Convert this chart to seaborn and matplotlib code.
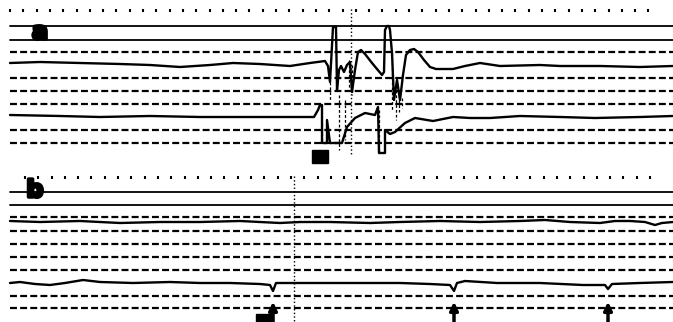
import numpy as np
import matplotlib.pyplot as plt
import matplotlib.patheffects as pe
import seaborn as sns
from matplotlib.patches import Rectangle

sns.set_style("white")
plt.rcParams['font.family'] = ['DejaVu Sans']
plt.rcParams['lines.scale_dashes'] = False

# --- record a: two pen traces (time, pen position) ---
a1_t = [10, 40, 80, 120, 150, 180, 210, 233, 260, 290, 310, 325, 328, 330, 333, 334, 336, 337,
        339, 341, 344, 347, 350, 352, 355, 358, 361, 365, 372, 382, 384, 385, 387, 389, 390,
        392, 394, 397, 400, 403, 406, 410, 414, 418, 424, 430, 436, 445, 453, 465, 480, 500,
        540, 560, 600, 640, 673]
a1_y = [63, 62, 63, 64, 65, 67, 65, 63, 64, 66, 63, 61, 66, 82, 27, 27, 27, 90,
        70, 66, 72, 65, 62, 92, 70, 52, 50, 54, 63, 75, 72, 30, 26, 26, 30,
        53, 100, 80, 100, 75, 55, 50, 49, 52, 60, 67, 69, 69, 69, 66, 63, 66,
        65, 66, 66, 67, 66]

a2_t = [10, 60, 100, 150, 200, 260, 300, 314, 318, 320, 322, 322, 327, 327, 330, 338, 342,
        347, 355, 365, 375, 378, 379, 385, 385, 390, 395, 405, 415, 433, 453, 470, 490, 520,
        560, 595, 640, 673]
a2_y = [115, 116, 117, 116, 117, 117, 117, 117, 110, 105, 105, 143, 143, 120, 143, 143, 143,
        127, 118, 113, 115, 107, 153, 153, 130, 134, 132, 123, 118, 121, 117, 118, 118, 116,
        117, 118, 117, 116]

# pen-lift strokes in the response (time, from, to)
lift_t = [322, 330, 339, 345, 349, 352, 379, 392, 396, 399, 402]
lift_y0 = [123, 82, 95, 100, 60, 65, 110, 53, 90, 95, 98]
lift_y1 = [143, 100, 150, 140, 88, 95, 153, 110, 120, 112, 108]

# --- record b ---
b1_t = [10, 40, 80, 120, 160, 200, 240, 280, 300, 330, 370, 400, 440, 480, 520, 545, 570,
        600, 615, 630, 645, 655, 662, 673]
b1_y = [221, 222, 221, 223, 222, 222, 221, 223, 222, 222, 223, 222, 221, 222, 221, 220, 222,
        223, 221, 221, 222, 225, 223, 222]

b2_t = [10, 20, 35, 50, 65, 83, 100, 133, 170, 200, 230, 260, 270, 273, 276, 300, 330, 370,
        400, 430, 450, 454, 457, 465, 497, 540, 583, 605, 608, 612, 640, 673]
b2_y = [283, 282, 284, 285, 283, 280, 282, 283, 282, 283, 283, 284, 285, 291, 283, 283, 283,
        283, 283, 284, 285, 291, 283, 281, 283, 283, 285, 285, 289, 284, 283, 282]

# chart paper rulings
grid_a_solid = [26, 39.5]
grid_a_dashed = [52, 78, 91, 104, 130, 143]
grid_b_solid = [192, 205]
grid_b_dashed = [217, 231, 244, 257, 269.5, 296, 308]

# event marks
arrow_t = [273, 454, 608]
stim_a = (312, 150, 16, 13)
stim_b = (256, 314, 17, 9)
cursor_a = 351
cursor_b = 294

W, H = 673, 322
fig = plt.figure(figsize=(W / 100, H / 100), dpi=100)


def panel(top, bottom, dot_start):
    ax = fig.add_axes([0, 1 - bottom / H, 1, (bottom - top) / H])
    ax.set_xlim(0, W)
    ax.set_ylim(bottom, top)
    for s in ax.spines.values():
        s.set_visible(False)
    # time marker dots along the top edge
    ax.xaxis.set_ticks_position('top')
    ax.set_xticks(np.arange(dot_start, W - 12, 13.3))
    ax.tick_params(axis='x', top=True, bottom=False, direction='in', length=2, width=1.5,
                   color='black', labeltop=False, labelbottom=False)
    ax.set_yticks([])
    return ax


ax_a = panel(9, 166, 10)
ax_b = panel(176, 322, 25)

for ax, solid, dashed in [(ax_a, grid_a_solid, grid_a_dashed), (ax_b, grid_b_solid, grid_b_dashed)]:
    for y in solid:
        ax.plot([10, W], [y, y], color='black', lw=1.3)
    for y in dashed:
        ax.plot([10, W], [y, y], color='black', lw=1.6, dashes=(5, 2.3))

kw = dict(color='black', estimator=None, sort=False, legend=False)
sns.lineplot(x=a1_t, y=a1_y, ax=ax_a, lw=1.7, **kw)
sns.lineplot(x=a2_t, y=a2_y, ax=ax_a, lw=1.7, **kw)
sns.lineplot(x=b1_t, y=b1_y, ax=ax_b, lw=1.7, **kw)
sns.lineplot(x=b2_t, y=b2_y, ax=ax_b, lw=1.7, **kw)

ax_a.vlines(lift_t, lift_y0, lift_y1, color='black', lw=0.9, linestyles=(0, (2, 1.5)))

ax_a.vlines(cursor_a, 9, 155, color='black', lw=1, linestyles=':')
ax_b.vlines(cursor_b, 176, 322, color='black', lw=1, linestyles=':')

ax_a.add_patch(Rectangle(stim_a[:2], stim_a[2], stim_a[3], color='black'))
ax_b.add_patch(Rectangle(stim_b[:2], stim_b[2], stim_b[3], color='black'))

for t in arrow_t:
    ax_b.annotate('', xy=(t, 299), xytext=(t, 325),
                  arrowprops=dict(arrowstyle='-|>', color='black', lw=2.5, mutation_scale=12))

blob = [pe.withStroke(linewidth=2.5, foreground='black')]
ax_a.text(40, 32, 'a', fontsize=17, fontweight='heavy', color='black',
          ha='center', va='center', path_effects=blob)
ax_b.text(35, 190, 'b', fontsize=17, fontweight='heavy', color='black',
          ha='center', va='center', path_effects=blob)

for ax in (ax_a, ax_b):
    ax.set_xlabel('')
    ax.set_ylabel('')

fig.savefig('out.png', dpi=100)
